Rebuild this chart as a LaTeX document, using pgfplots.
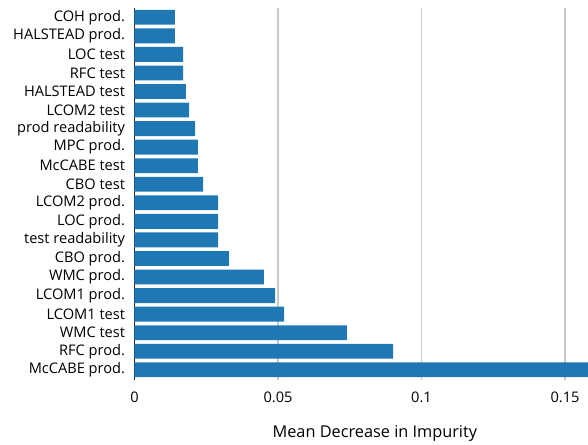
\documentclass[border=0pt]{standalone}
\usepackage{pgfplots}
\pgfplotsset{compat=1.18}
\usepackage{fontspec}
\setmainfont{Open Sans}

\definecolor{barblue}{HTML}{1F77B4}
\definecolor{gridgray}{HTML}{C8C8C8}

\begin{document}
\begin{tikzpicture}
\begin{axis}[
  scale only axis,
  width=453.5bp, height=372bp,
  xbar, bar width=0.8,
  xmin=0, xmax=0.158,
  ymin=-0.55, ymax=19.5,
  ytick={0,...,19},
  yticklabels={McCABE prod.,RFC prod.,WMC test,LCOM1 test,LCOM1 prod.,WMC prod.,CBO prod.,test readability,LOC prod.,LCOM2 prod.,CBO test,McCABE test,MPC prod.,prod readability,LCOM2 test,HALSTEAD test,RFC test,LOC test,HALSTEAD prod.,COH prod.},
  xtick={0,0.05,0.1,0.15},
  xticklabels={0,0.05,0.1,0.15},
  tick label style={font=\fontsize{14.6bp}{17bp}\selectfont},
  major tick length=0pt,
  separate axis lines,
  axis x line*=bottom, axis y line*=left,
  x axis line style={draw=none},
  y axis line style={draw=black!85, line width=0.8pt, -},
  xmajorgrids,
  major grid style={draw=gridgray, line width=1.3pt},
  yticklabel style={xshift=-6bp},
  xticklabel style={yshift=-8bp},
  xlabel={Mean Decrease in Impurity},
  xlabel style={font=\fontsize{16.3bp}{19bp}\selectfont, at={(axis description cs:0.53,0)}, anchor=north, yshift=-42bp},
  clip=true,
]
\addplot[fill=barblue, draw=none] coordinates {
  (0.170,0)
  (0.0901,1)
  (0.0740,2)
  (0.0521,3)
  (0.0490,4)
  (0.0451,5)
  (0.0329,6)
  (0.0291,7)
  (0.0291,8)
  (0.0291,9)
  (0.0239,10)
  (0.0221,11)
  (0.0221,12)
  (0.0211,13)
  (0.0190,14)
  (0.0179,15)
  (0.0169,16)
  (0.0169,17)
  (0.0141,18)
  (0.0141,19)
};
\coordinate (sw) at (rel axis cs:0,0);
\coordinate (ne) at (rel axis cs:1,1);
\end{axis}
\pgfresetboundingbox
\path[use as bounding box] ([xshift=-134.5bp,yshift=-65bp]sw) rectangle ([yshift=8bp]ne);
\end{tikzpicture}
\end{document}
